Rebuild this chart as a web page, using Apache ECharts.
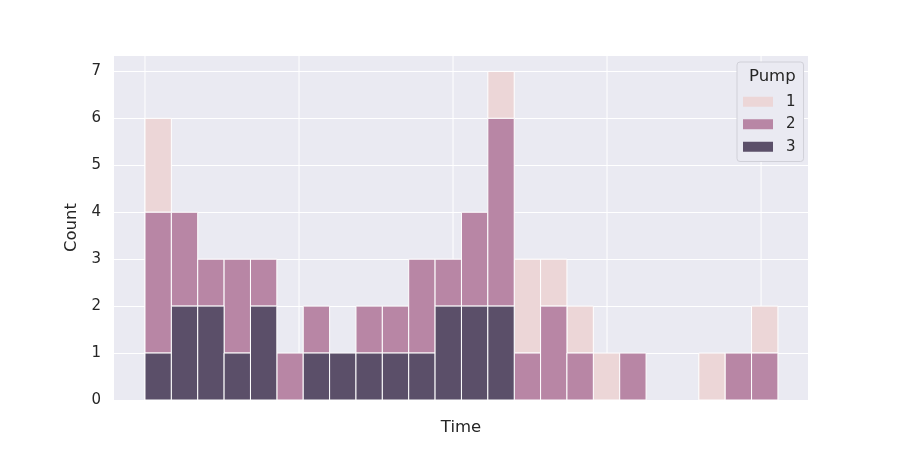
<!DOCTYPE html>
<html>
<head>
<meta charset="utf-8">
<script src="https://cdn.jsdelivr.net/npm/echarts@6/dist/echarts.min.js"></script>
<style>html,body{margin:0;padding:0;background:#fff}#c{width:900px;height:450px}</style>
</head>
<body>
<div id="c"></div>
<script>
// 24 histogram bins (bin index along the time range)
const bins = [0,1,2,3,4,5,6,7,8,9,10,11,12,13,14,15,16,17,18,19,20,21,22,23];
// counts per pump (stacked: pump 3 bottom, pump 2 middle, pump 1 top)
const pump1 = [2,0,0,0,0,0,0,0,0,0,0,0,0,1,2,1,1,1,0,0,0,1,0,1];
const pump2 = [3,2,1,2,1,1,1,0,1,1,2,1,2,4,1,2,1,0,1,0,0,0,1,1];
const pump3 = [1,2,2,1,2,0,1,1,1,1,1,2,2,2,0,0,0,0,0,0,0,0,0,0];
// unlabeled time tick positions (in bin units)
const timeTicks = [0, 5.84, 11.68, 17.52, 23.36];
const pumpNames = ['1','2','3'];
const colors = {'1':'#ecd6d7','2':'#b886a5','3':'#5b4f69'};

const yMax = 7.35;
const font = 'DejaVu Sans';

function stackData(vals, baseArrs) {
  return bins.map((b, i) => {
    let base = 0;
    baseArrs.forEach(a => base += a[i]);
    return [b, base, vals[i]];
  });
}
const data3 = stackData(pump3, []);
const data2 = stackData(pump2, [pump3]);
const data1 = stackData(pump1, [pump3, pump2]);

function render(color) {
  return function (params, api) {
    const x = api.value(0), base = api.value(1), v = api.value(2);
    if (!v) return null;
    const p0 = api.coord([x, base]);
    const p1 = api.coord([x + 1, base + v]);
    return {
      type: 'rect',
      shape: { x: p0[0], y: p1[1], width: p1[0] - p0[0], height: p0[1] - p1[1] },
      style: { fill: color, stroke: '#ffffff', lineWidth: 1 }
    };
  };
}

const chart = echarts.init(document.getElementById('c'));
chart.setOption({
  animation: false,
  backgroundColor: '#ffffff',
  textStyle: { fontFamily: font },
  grid: { left: 114, right: 92, top: 55, bottom: 50, show: true, backgroundColor: '#eaeaf2', borderWidth: 0 },
  xAxis: {
    type: 'value', min: -1.175, max: 25.14,
    name: 'Time', nameLocation: 'middle', nameGap: 19,
    nameTextStyle: { fontSize: 16.5, color: '#262626', fontFamily: font, verticalAlign: 'top' },
    axisLine: { show: false }, axisTick: { show: false }, axisLabel: { show: false },
    splitLine: { show: false }
  },
  yAxis: {
    type: 'value', min: 0, max: yMax, interval: 1,
    name: 'Count', nameLocation: 'middle', nameGap: 23,
    nameTextStyle: { fontSize: 16.5, color: '#262626', fontFamily: font },
    axisLine: { show: false }, axisTick: { show: false },
    axisLabel: { fontSize: 15, color: '#262626', fontFamily: font, margin: 13,
      padding: [3, 0, 0, 0],
      formatter: v => (Number.isInteger(v) ? String(v) : '') },
    splitLine: { lineStyle: { color: '#ffffff', width: 1 } }
  },
  legend: {
    data: pumpNames,
    orient: 'vertical',
    left: 737, top: 62,
    padding: [31, 8, 6, 6],
    itemWidth: 30, itemHeight: 10, itemGap: 5,
    icon: 'rect',
    backgroundColor: '#eaeaf2',
    borderColor: '#d0d0d8', borderWidth: 1, borderRadius: 3,
    textStyle: { fontSize: 15, color: '#262626', fontFamily: font, padding: [0, 0, 0, 8], lineHeight: 17.5 }
  },
  graphic: [{
    type: 'text', left: 749, top: 68, z: 100,
    style: { text: 'Pump', fontSize: 16.5, fill: '#262626', fontFamily: font }
  }],
  series: [
    {
      type: 'custom', name: 'grid', z: 1, silent: true,
      data: timeTicks.map(t => [t]),
      renderItem: function (params, api) {
        const a = api.coord([api.value(0), 0]);
        const b = api.coord([api.value(0), yMax]);
        return { type: 'line', shape: { x1: a[0], y1: a[1], x2: b[0], y2: b[1] }, style: { stroke: '#ffffff', lineWidth: 1 } };
      }
    },
    { type: 'custom', name: '1', z: 3, data: data1, renderItem: render(colors['1']), itemStyle: { color: colors['1'] } },
    { type: 'custom', name: '2', z: 3, data: data2, renderItem: render(colors['2']), itemStyle: { color: colors['2'] } },
    { type: 'custom', name: '3', z: 3, data: data3, renderItem: render(colors['3']), itemStyle: { color: colors['3'] } }
  ]
});
</script>
</body>
</html>
